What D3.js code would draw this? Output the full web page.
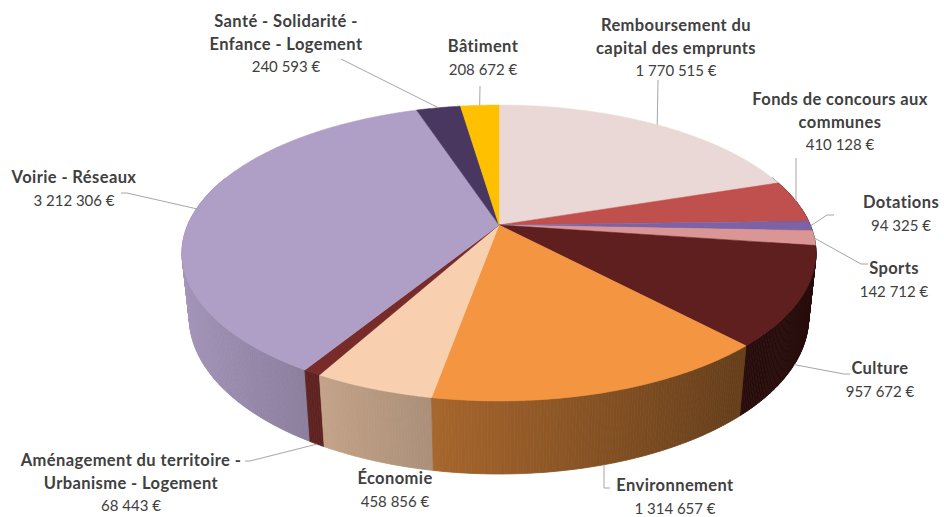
<!DOCTYPE html>
<html>
<head>
<meta charset="utf-8">
<script src="https://cdn.jsdelivr.net/npm/d3@7/dist/d3.min.js"></script>
<style>
  html, body { margin: 0; padding: 0; background: #ffffff; }
  svg { display: block; }
</style>
</head>
<body>
<svg id="chart" width="944" height="517"></svg>
<script>
// ---------- DATA ----------
const categories = [
  "Remboursement du capital des emprunts",
  "Fonds de concours aux communes",
  "Dotations",
  "Sports",
  "Culture",
  "Environnement",
  "Économie",
  "Aménagement du territoire - Urbanisme - Logement",
  "Voirie - Réseaux",
  "Santé - Solidarité - Enfance - Logement",
  "Bâtiment"
];
const values = [1770515, 410128, 94325, 142712, 957672, 1314657, 458856, 68443, 3212306, 240593, 208672];
const colors = ["#EAD8D7", "#C0504D", "#7E62A6", "#D99694", "#5F1F1F", "#F39541",
                "#F9D0AF", "#772C2A", "#AF9FC6", "#4A3760", "#FFC000"];
// label text broken into lines (category names as displayed)
const nameLines = [
  ["Remboursement du", "capital des emprunts"],
  ["Fonds de concours aux", "communes"],
  ["Dotations"],
  ["Sports"],
  ["Culture"],
  ["Environnement"],
  ["Économie"],
  ["Aménagement du territoire -", "Urbanisme - Logement"],
  ["Voirie - Réseaux"],
  ["Santé - Solidarité -", "Enfance - Logement"],
  ["Bâtiment"]
];

// ---------- LAYOUT (label positions & leader ends) ----------
const labelLayout = [
  { x: 676, y: 31,  leader: [[658, 80]] },
  { x: 840, y: 105, leader: [[796, 158]] },
  { x: 901, y: 208, leader: [[827, 215], [834, 215]] },
  { x: 894, y: 274, leader: [[861, 264], [868, 264]] },
  { x: 880, y: 374, leader: [[844, 374], [850, 374]] },
  { x: 675, y: 491, leader: [[604, 488], [610, 488]] },
  { x: 395, y: 484, leader: null },
  { x: 131, y: 466, leader: [[250, 461], [245, 461]] },
  { x: 74,  y: 183, leader: [[127, 193], [121, 193]] },
  { x: 286, y: 27,  leader: [[341, 59]] },
  { x: 483, y: 52,  leader: [[480, 86]] }
];

// ---------- 3D PROJECTION ----------
const CX = 499, CY = 225;
const SIN = 0.4584, COS = Math.sqrt(1 - SIN * SIN);
const DIST = 4.697, FOC = 1462, THICK = 0.2346;
function proj(X, Y, Z) {
  const yc = Y * COS - Z * SIN;
  const depth = DIST - (Y * SIN + Z * COS);
  return [CX + FOC * X / depth, CY - FOC * yc / depth];
}
function depthOf(X, Y, Z) { return DIST - (Y * SIN + Z * COS); }

const svg = d3.select("#chart");
const pie = d3.pie().sort(null).value(d => d)(values);
const line = d3.line();
const toTheta = a => a - Math.PI / 2;
const STEP = Math.PI / 360;

function shade(hex, f) {
  const c = d3.rgb(hex);
  return d3.rgb(c.r * f, c.g * f, c.b * f).formatHex();
}

// ---------- SIDE WALLS ----------
const segs = [];
pie.forEach((p, i) => {
  const n = Math.max(1, Math.ceil((p.endAngle - p.startAngle) / STEP));
  for (let k = 0; k < n; k++) {
    const a0 = p.startAngle + (p.endAngle - p.startAngle) * k / n;
    const a1 = p.startAngle + (p.endAngle - p.startAngle) * (k + 1) / n;
    const t0 = toTheta(a0), t1 = toTheta(a1), tm = (t0 + t1) / 2;
    if (Math.sin(tm) < -0.35) continue; // hidden behind the top
    const pts = [
      proj(Math.cos(t0), 0, Math.sin(t0)),
      proj(Math.cos(t1), 0, Math.sin(t1)),
      proj(Math.cos(t1), -THICK, Math.sin(t1)),
      proj(Math.cos(t0), -THICK, Math.sin(t0))
    ];
    const f = Math.max(0.42, Math.min(0.95, 0.63 - 0.32 * Math.cos(tm)));
    segs.push({ pts, depth: depthOf(Math.cos(tm), 0, Math.sin(tm)), color: shade(colors[i], f) });
  }
});
segs.sort((a, b) => b.depth - a.depth);
svg.append("g").selectAll("path").data(segs).join("path")
  .attr("d", d => line(d.pts) + "Z")
  .attr("fill", d => d.color)
  .attr("stroke", d => d.color)
  .attr("stroke-width", 0.8)
  .attr("stroke-linejoin", "round");

// ---------- TOP FACES ----------
svg.append("g").selectAll("path").data(pie).join("path")
  .attr("d", p => {
    const n = Math.max(2, Math.ceil((p.endAngle - p.startAngle) / STEP));
    const pts = [proj(0, 0, 0)];
    for (let k = 0; k <= n; k++) {
      const t = toTheta(p.startAngle + (p.endAngle - p.startAngle) * k / n);
      pts.push(proj(Math.cos(t), 0, Math.sin(t)));
    }
    return line(pts) + "Z";
  })
  .attr("fill", (p, i) => colors[i])
  .attr("stroke", (p, i) => colors[i])
  .attr("stroke-width", 0.5)
  .attr("stroke-linejoin", "round");

// ---------- LEADER LINES ----------
function anchor(p) {
  const t = toTheta((p.startAngle + p.endAngle) / 2);
  const X = Math.cos(t), Z = Math.sin(t);
  return Z > 0.3 ? proj(X, -THICK, Z) : proj(X, 0, Z);
}
svg.append("g").selectAll("path")
  .data(pie.filter((p, i) => labelLayout[i].leader))
  .join("path")
  .attr("d", p => line([anchor(p)].concat(labelLayout[p.index].leader)))
  .attr("fill", "none")
  .attr("stroke", "#A6A6A6")
  .attr("stroke-width", 1);

// ---------- LABELS ----------
const fmtLocale = d3.formatLocale({ decimal: ",", thousands: "\u00a0", grouping: [3], currency: ["", "\u00a0€"] });
const fmt = fmtLocale.format("$,");
const LH = 22.5;
const lbl = svg.append("g")
  .attr("font-family", "Lato, 'Source Sans Pro', 'Open Sans', sans-serif")
  .attr("fill", "#404040")
  .attr("text-anchor", "middle");
categories.forEach((c, i) => {
  const L = labelLayout[i];
  const t = lbl.append("text").attr("x", L.x).attr("y", L.y);
  nameLines[i].forEach((s, j) => {
    t.append("tspan").attr("x", L.x).attr("dy", j === 0 ? 0 : LH)
      .attr("font-weight", "bold").attr("font-size", "16.5px")
      .attr("letter-spacing", "0.4px").text(s);
  });
  t.append("tspan").attr("x", L.x).attr("dy", LH).attr("font-weight", "normal")
    .attr("font-size", "15px").text(fmt(values[i]));
});
</script>
</body>
</html>
